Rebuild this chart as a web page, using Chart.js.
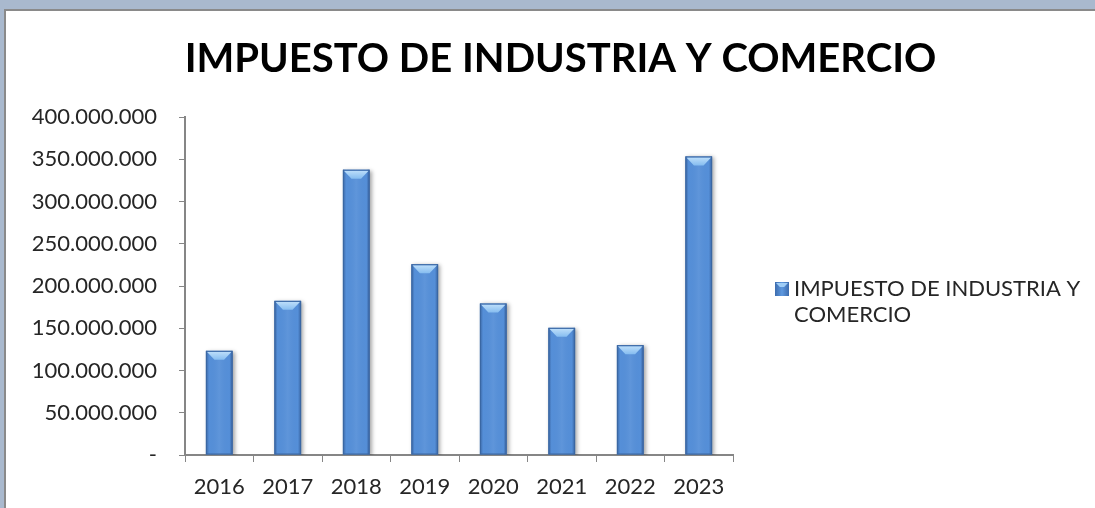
<!DOCTYPE html>
<html>
<head>
<meta charset="utf-8">
<script src="https://cdn.jsdelivr.net/npm/chart.js@4"></script>
<style>
  html, body { margin: 0; padding: 0; width: 1095px; height: 508px; overflow: hidden; background: #ffffff; }
  #frame { position: absolute; left: 0; top: 0; width: 1095px; height: 508px; overflow: hidden; background: #a9b9ce; }
  #inner { position: absolute; left: 4px; top: 9px; width: 1200px; height: 600px; background: #ffffff;
           border-left: 2px solid #8a8a8a; border-top: 2px solid #8a8a8a; }
  #wrap { position: absolute; left: 0; top: 0; width: 1095px; height: 508px; }
</style>
</head>
<body>
<div id="frame">
  <div id="inner"></div>
  <div id="wrap"><canvas id="c" width="1095" height="508"></canvas></div>
</div>
<script>
const categories = ['2016', '2017', '2018', '2019', '2020', '2021', '2022', '2023'];
const seriesName = 'IMPUESTO DE INDUSTRIA Y COMERCIO';
const seriesValues = [123300000, 182400000, 337700000, 225800000, 179300000, 150500000, 130000000, 353400000];
const yTickValues = [0, 50000000, 100000000, 150000000, 200000000, 250000000, 300000000, 350000000, 400000000];
const yTickLabels = ['-', '50.000.000', '100.000.000', '150.000.000', '200.000.000', '250.000.000', '300.000.000', '350.000.000', '400.000.000'];
const legendLines = ['IMPUESTO DE INDUSTRIA Y', 'COMERCIO'];

const FONT = 'Lato, "Open Sans", sans-serif';

const barStyle = {
  id: 'barStyle',
  beforeDatasetDraw(chart) {
    const ctx = chart.ctx;
    ctx.save();
    ctx.shadowColor = 'rgba(0,0,0,0.35)';
    ctx.shadowBlur = 4;
    ctx.shadowOffsetX = 2;
    ctx.shadowOffsetY = 1;
  },
  afterDatasetDraw(chart) {
    chart.ctx.restore();
  },
  afterDatasetsDraw(chart) {
    const ctx = chart.ctx;
    const meta = chart.getDatasetMeta(0);
    meta.data.forEach(el => {
      const w = el.width, l = el.x - w / 2, r = el.x + w / 2, t = el.y, b = el.base;
      ctx.save();
      const g = ctx.createLinearGradient(l, 0, r, 0);
      g.addColorStop(0, 'rgba(30,60,110,0.5)');
      g.addColorStop(0.12, 'rgba(30,60,110,0.0)');
      g.addColorStop(0.5, 'rgba(255,255,255,0.06)');
      g.addColorStop(0.88, 'rgba(30,60,110,0.0)');
      g.addColorStop(1, 'rgba(30,60,110,0.55)');
      ctx.fillStyle = g;
      ctx.fillRect(l, t, w, b - t);
      const d = Math.min(9, (b - t) / 2);
      const tg = ctx.createLinearGradient(0, t, 0, t + d);
      tg.addColorStop(0, '#c3e2fb');
      tg.addColorStop(1, '#86bdf0');
      ctx.fillStyle = tg;
      ctx.beginPath();
      ctx.moveTo(l + 1, t + 1);
      ctx.lineTo(r - 1, t + 1);
      ctx.lineTo(r - w * 0.32, t + d);
      ctx.lineTo(l + w * 0.32, t + d);
      ctx.closePath();
      ctx.fill();
      ctx.strokeStyle = '#3b67a3';
      ctx.lineWidth = 1;
      ctx.strokeRect(l + 0.5, t + 0.5, w - 1, b - t - 1);
      ctx.restore();
    });
  }
};

const customLegend = {
  id: 'customLegend',
  afterDraw(chart) {
    const ctx = chart.ctx;
    const ca = chart.chartArea;
    const bx = ca.right + 42, by = ca.top + 165, bs = 14;
    ctx.save();
    const g = ctx.createLinearGradient(bx, 0, bx + bs, 0);
    g.addColorStop(0, '#3d6cae');
    g.addColorStop(0.5, '#5d98df');
    g.addColorStop(1, '#3d6cae');
    ctx.fillStyle = g;
    ctx.fillRect(bx, by, bs, bs);
    ctx.fillStyle = '#9fcdf6';
    ctx.beginPath();
    ctx.moveTo(bx + 1, by + 1);
    ctx.lineTo(bx + bs - 1, by + 1);
    ctx.lineTo(bx + bs * 0.65, by + 5);
    ctx.lineTo(bx + bs * 0.35, by + 5);
    ctx.closePath();
    ctx.fill();
    ctx.fillStyle = '#262626';
    ctx.font = '22px ' + FONT;
    ctx.textBaseline = 'middle';
    ctx.textAlign = 'left';
    legendLines.forEach((line, i) => {
      ctx.fillText(line, bx + bs + 5, by + bs / 2 + i * 26);
    });
    ctx.restore();
  }
};

new Chart(document.getElementById('c'), {
  type: 'bar',
  data: {
    labels: categories,
    datasets: [{
      label: seriesName,
      data: seriesValues,
      backgroundColor: '#558fd8',
      borderWidth: 0,
      barPercentage: 0.39,
      categoryPercentage: 1.0
    }]
  },
  options: {
    responsive: false,
    animation: false,
    devicePixelRatio: 1,
    layout: { padding: { left: 26, right: 0, top: 0, bottom: 0 } },
    plugins: {
      legend: { display: false },
      tooltip: { enabled: false },
      title: {
        display: true,
        text: seriesName,
        color: '#000000',
        font: { family: FONT, size: 40, weight: 'bold', lineHeight: 1.2 },
        padding: { top: 35, bottom: 34 }
      }
    },
    scales: {
      x: {
        grid: { display: true, drawOnChartArea: false, drawTicks: true, tickLength: 7, color: '#868686', offset: true },
        border: { display: true, color: '#868686', width: 2 },
        ticks: { color: '#262626', font: { family: FONT, size: 22 }, padding: 12 },
        afterFit(scale) { scale.height = 53; }
      },
      y: {
        min: 0, max: 400000000,
        grid: { display: true, drawOnChartArea: false, drawTicks: true, tickLength: 6, color: '#868686' },
        border: { display: true, color: '#868686', width: 2 },
        afterBuildTicks(scale) { scale.ticks = yTickValues.map(v => ({ value: v })); },
        ticks: {
          color: '#262626', font: { family: FONT, size: 22 }, padding: 22,
          callback(value, index) { return yTickLabels[index]; }
        },
        afterFit(scale) { scale.width = 159; }
      },
      yRight: {
        position: 'right', display: true, min: 0, max: 1,
        grid: { display: false }, border: { display: false },
        ticks: { display: false },
        afterFit(scale) { scale.width = 362; }
      }
    }
  },
  plugins: [barStyle, customLegend]
});
</script>
</body>
</html>
